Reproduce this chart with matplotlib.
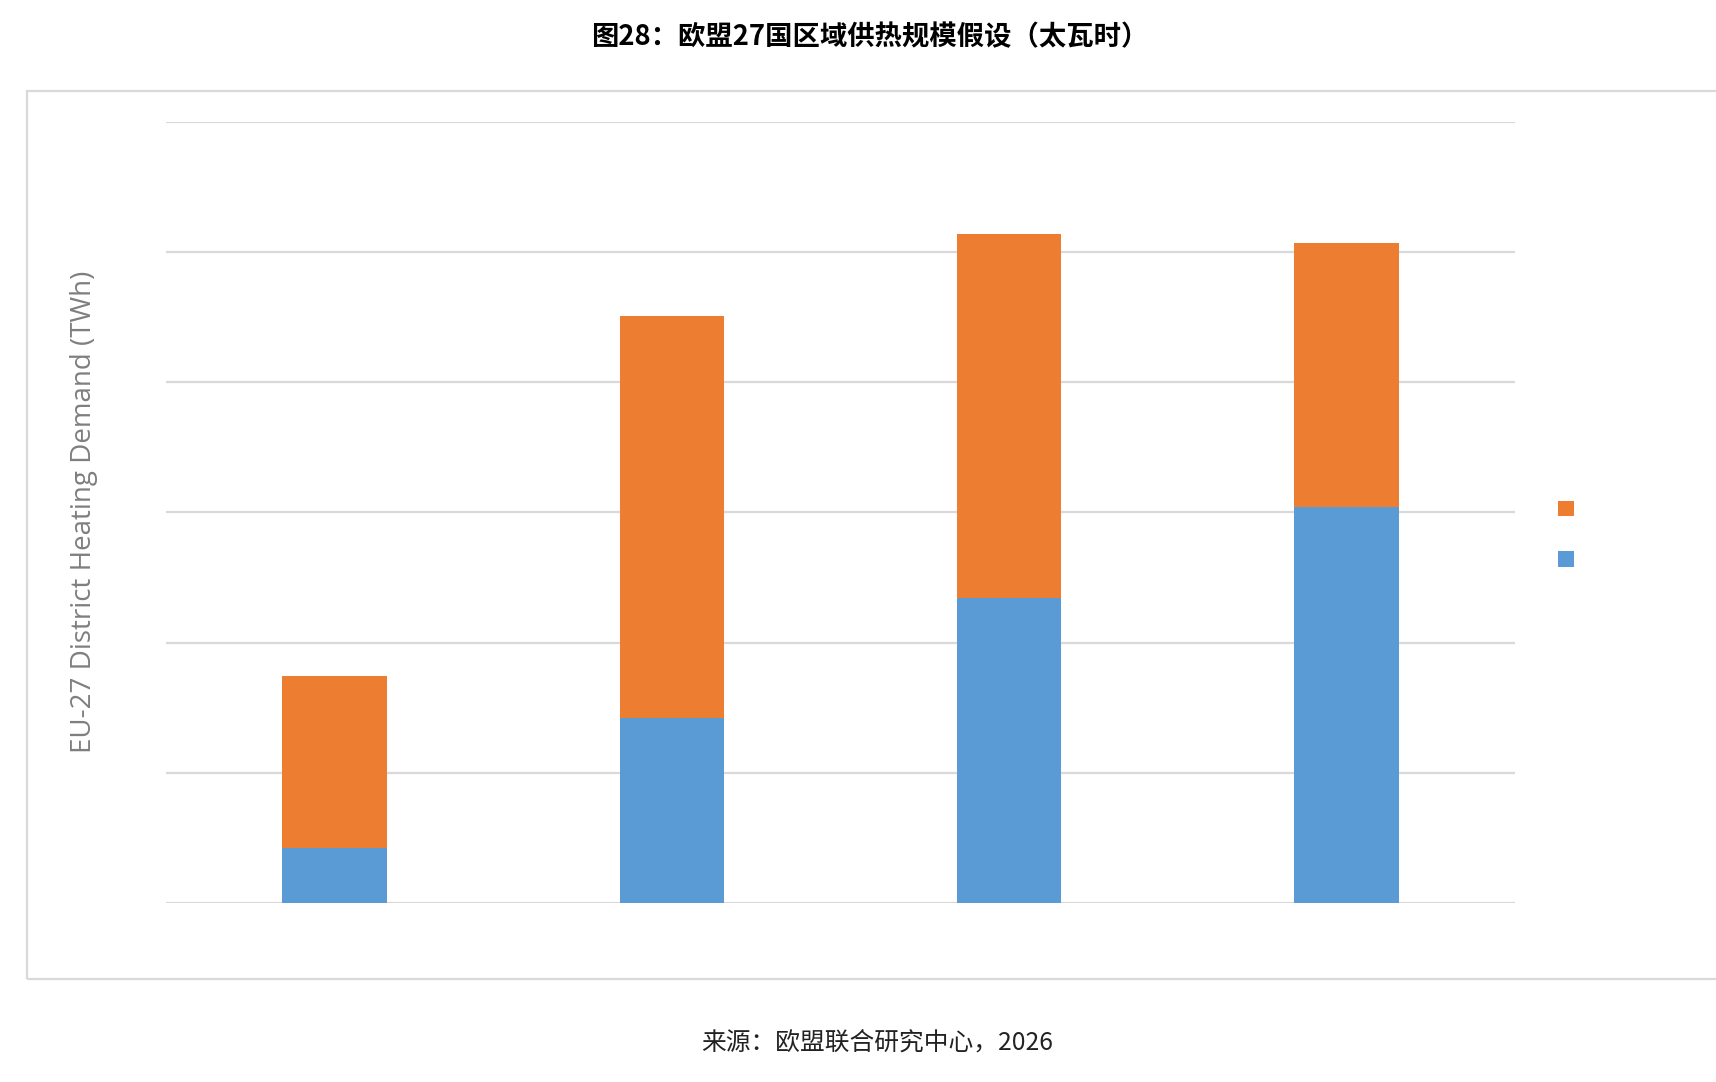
import matplotlib.pyplot as plt
from matplotlib.patches import Rectangle

plt.rcParams['font.family'] = ['Noto Sans CJK SC', 'DejaVu Sans']

# four scenario columns (no category labels shown in the original)
categories = ['1', '2', '3', '4']
blue_vals = [42, 142, 234, 304]
orange_vals = [132, 309, 280, 203]
grid_ticks = [0, 100, 200, 300, 400, 500, 600]

ORANGE = '#ED7D31'
BLUE = '#5B9BD5'
GRID = '#D9D9D9'

fig = plt.figure(figsize=(17.16, 10.82), dpi=100)
ax = fig.add_axes([166 / 1716, 1 - 903 / 1082, (1515 - 166) / 1716, (903 - 121.5) / 1082])

x = range(len(categories))
b_blue = ax.bar(x, blue_vals, width=0.31, color=BLUE, zorder=3)
b_orange = ax.bar(x, orange_vals, width=0.31, bottom=blue_vals, color=ORANGE, zorder=3)

ax.set_xlim(-0.5, len(categories) - 0.5)
ax.set_ylim(grid_ticks[0], grid_ticks[-1])
ax.set_yticks(grid_ticks)
ax.yaxis.grid(True, color=GRID, linewidth=1.6, zorder=0)
ax.set_xticks([])
ax.tick_params(axis='y', length=0, labelleft=False)
for s in ax.spines.values():
    s.set_visible(False)
ax.set_axisbelow(True)

ax.set_ylabel('EU-27 District Heating Demand (TWh)', color='#7F7F7F',
              fontsize=20, family=['Open Sans', 'DejaVu Sans'], labelpad=49)

# legend squares with no text, orange above blue
fig.legend([b_orange, b_blue], [' ', ' '], loc='center left',
           bbox_to_anchor=(1540 / 1716, 1 - 535 / 1082), frameon=False,
           handlelength=0.85, handleheight=0.85, labelspacing=1.5, fontsize=14)

# outer frame of the chart area (runs past the right edge)
fig.patches.append(Rectangle((27 / 1716, 1 - 979 / 1082), 1.05, (979 - 91) / 1082,
                             transform=fig.transFigure, fill=False,
                             edgecolor='#D9D9D9', linewidth=1.6))

fig.text(0.507, 1 - 37 / 1082, '图28：欧盟27国区域供热规模假设（太瓦时）',
         ha='center', va='center', fontsize=19.7, fontweight='bold')
fig.text(0.511, 1 - 1043 / 1082, '来源：欧盟联合研究中心，2026',
         ha='center', va='center', fontsize=17.8, color='#222222', fontweight='light')

fig.savefig('out.png', dpi=100)
